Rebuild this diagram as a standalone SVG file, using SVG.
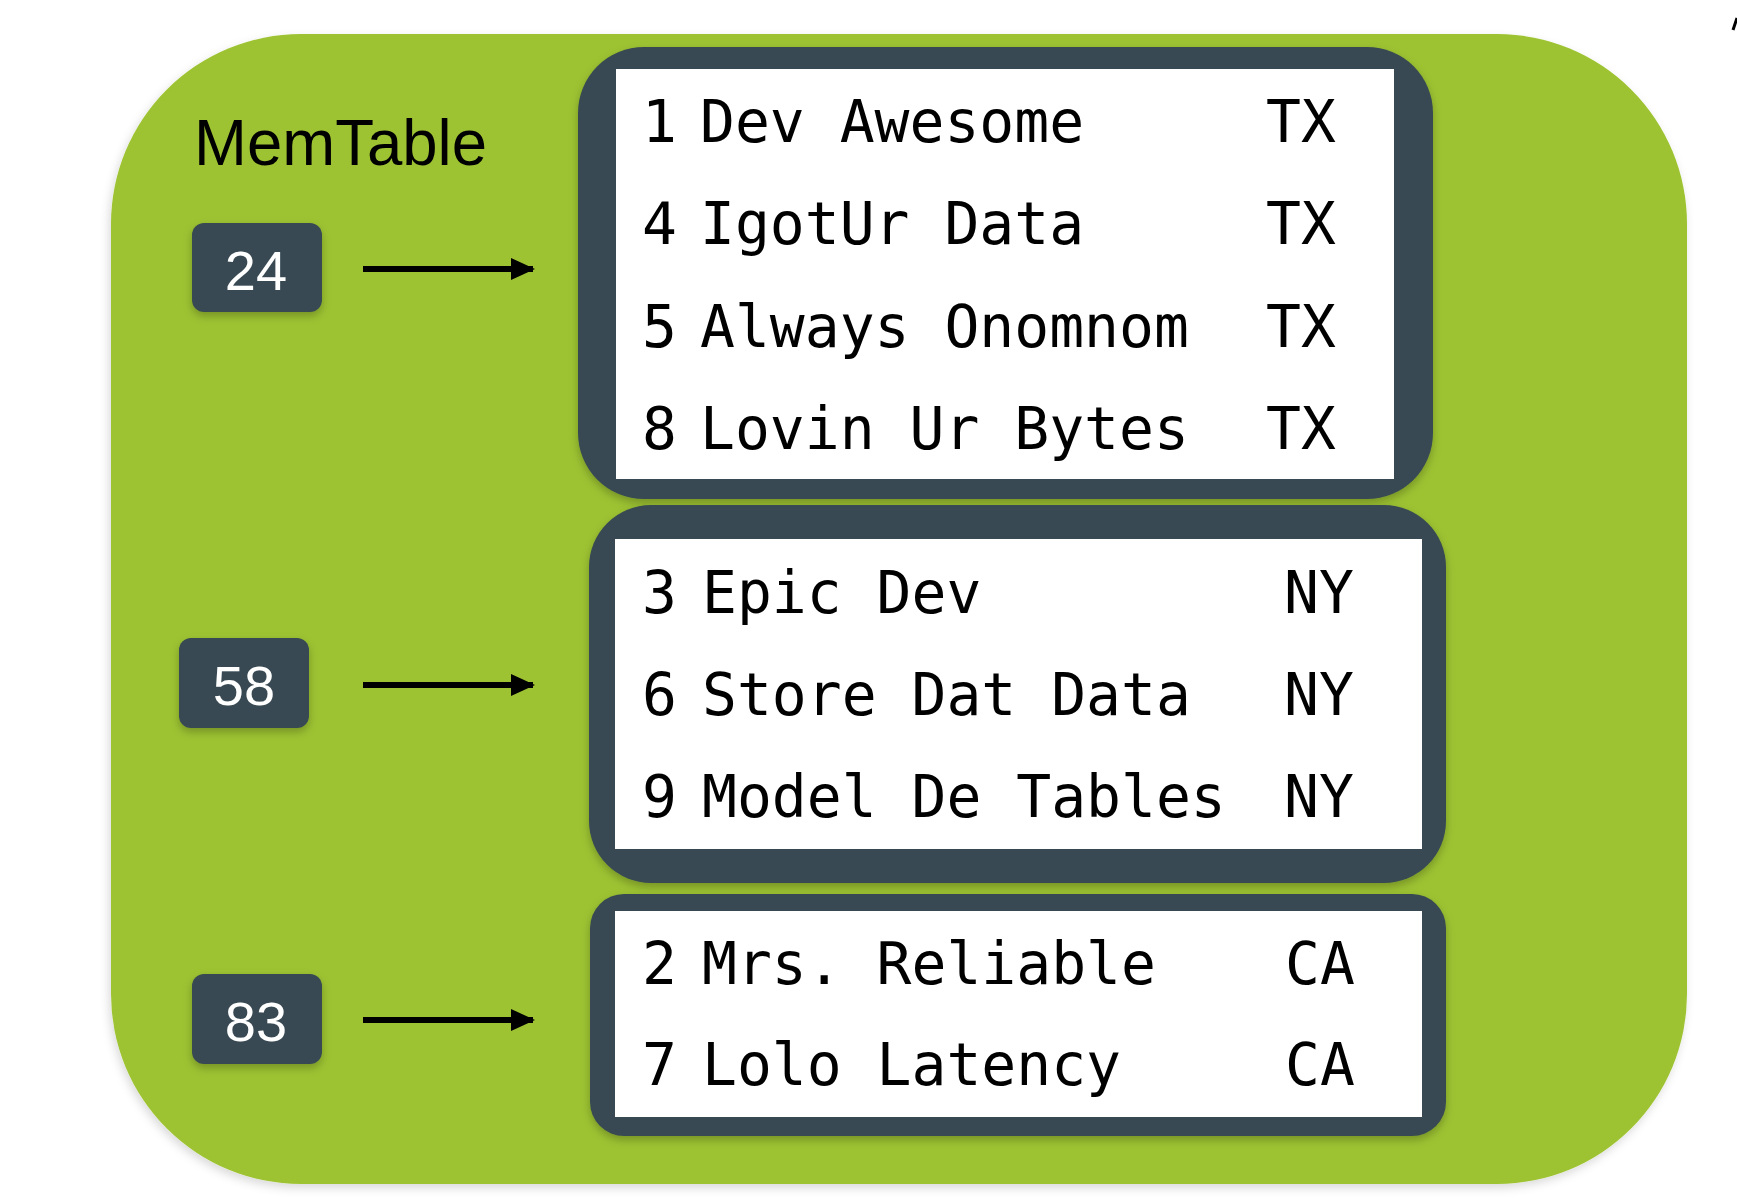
<svg xmlns="http://www.w3.org/2000/svg" width="1737" height="1198" viewBox="0 0 1737 1198">
  <defs>
    <style>
      .frame { fill: #9dc330; }
      .outer { fill: #374a52; }
      .inner { fill: #ffffff; }
      .key { fill: #374a52; }
      .keytxt { fill: #ffffff; font-family: "Liberation Sans", Arial, sans-serif; font-size: 56px; text-anchor: middle; }
      .row { fill: #000000; font-family: "DejaVu Sans Mono", "Liberation Mono", monospace; font-size: 58px; }
      .title { fill: #000000; font-family: "Liberation Sans", Arial, sans-serif; font-size: 64px; }
      .conn { stroke: #000000; stroke-width: 6; fill: none; }
    </style>
    <filter id="sh" x="-10%" y="-10%" width="120%" height="130%">
      <feDropShadow dx="0" dy="4" stdDeviation="4" flood-color="#000000" flood-opacity="0.25"/>
    </filter>
    <filter id="shg" x="-5%" y="-5%" width="110%" height="110%">
      <feDropShadow dx="-2" dy="4" stdDeviation="5" flood-color="#000000" flood-opacity="0.15"/>
    </filter>
    <marker id="arr" viewBox="0 0 24 22" refX="22" refY="11" markerWidth="24" markerHeight="22" markerUnits="userSpaceOnUse" orient="auto">
      <path d="M0,0 L24,11 L0,22 Z" fill="#000000"/>
    </marker>
  </defs>
  <rect width="1737" height="1198" fill="#ffffff"/>
  <line x1="1733" y1="30" x2="1737" y2="18" stroke="#000000" stroke-width="3"/>

  <g id="memtable">
    <rect class="frame" x="111" y="34" width="1576" height="1150" rx="190" ry="190" filter="url(#shg)"/>
    <text class="title" x="194" y="165" textLength="293" lengthAdjust="spacingAndGlyphs">MemTable</text>
  </g>

  <g id="key-24">
    <rect class="key" x="192" y="223" width="130" height="89" rx="12" filter="url(#sh)"/>
    <text class="keytxt" x="256" y="290">24</text>
  </g>
  <g id="key-58">
    <rect class="key" x="179" y="638" width="130" height="90" rx="12" filter="url(#sh)"/>
    <text class="keytxt" x="244" y="705">58</text>
  </g>
  <g id="key-83">
    <rect class="key" x="192" y="974" width="130" height="90" rx="12" filter="url(#sh)"/>
    <text class="keytxt" x="256" y="1041">83</text>
  </g>

  <g id="partition-tx">
    <rect class="outer" x="578" y="47" width="855" height="452" rx="66" filter="url(#sh)"/>
    <rect class="inner" x="616" y="69" width="778" height="410"/>
    <text class="row" x="642" y="142">1</text><text class="row" x="700" y="142">Dev Awesome</text><text class="row" x="1266" y="142">TX</text>
    <text class="row" x="642" y="244">4</text><text class="row" x="700" y="244">IgotUr Data</text><text class="row" x="1266" y="244">TX</text>
    <text class="row" x="642" y="347">5</text><text class="row" x="700" y="347">Always Onomnom</text><text class="row" x="1266" y="347">TX</text>
    <text class="row" x="642" y="449">8</text><text class="row" x="700" y="449">Lovin Ur Bytes</text><text class="row" x="1266" y="449">TX</text>
  </g>

  <g id="partition-ny">
    <rect class="outer" x="589" y="505" width="857" height="378" rx="62" filter="url(#sh)"/>
    <rect class="inner" x="615" y="539" width="807" height="310"/>
    <text class="row" x="642" y="613">3</text><text class="row" x="702" y="613">Epic Dev</text><text class="row" x="1284" y="613">NY</text>
    <text class="row" x="642" y="715">6</text><text class="row" x="702" y="715">Store Dat Data</text><text class="row" x="1284" y="715">NY</text>
    <text class="row" x="642" y="817">9</text><text class="row" x="702" y="817">Model De Tables</text><text class="row" x="1284" y="817">NY</text>
  </g>

  <g id="partition-ca">
    <rect class="outer" x="590" y="894" width="856" height="242" rx="34" filter="url(#sh)"/>
    <rect class="inner" x="615" y="911" width="807" height="206"/>
    <text class="row" x="642" y="984">2</text><text class="row" x="702" y="984">Mrs. Reliable</text><text class="row" x="1285" y="984">CA</text>
    <text class="row" x="642" y="1085">7</text><text class="row" x="702" y="1085">Lolo Latency</text><text class="row" x="1285" y="1085">CA</text>
  </g>

  <g id="connectors">
    <line class="conn" x1="363" y1="269" x2="533" y2="269" marker-end="url(#arr)"/>
    <line class="conn" x1="363" y1="685" x2="533" y2="685" marker-end="url(#arr)"/>
    <line class="conn" x1="363" y1="1020" x2="533" y2="1020" marker-end="url(#arr)"/>
  </g>
</svg>
